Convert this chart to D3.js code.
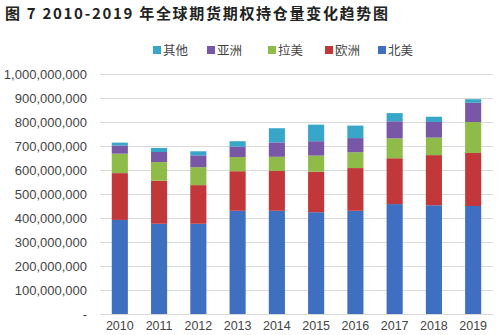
<!DOCTYPE html>
<html>
<head>
<meta charset="utf-8">
<script src="https://cdn.jsdelivr.net/npm/d3@7/dist/d3.min.js"></script>
<style>
  body { margin: 0; background: #fff; }
  svg { display: block; }
  .grid line { stroke: #d9d9d9; }
  .grid .domain { display: none; }
  .axis text { fill: #444; }
</style>
</head>
<body>
<script>
// years and open interest by region (contracts)
const years = ['2010', '2011', '2012', '2013', '2014', '2015', '2016', '2017', '2018', '2019'];
const northAmerica = [392, 376, 376, 430, 430, 424, 430, 458, 453, 450].map(v => v * 1e6);
const europe       = [195, 179, 161, 165, 166, 169, 178, 191, 209, 221].map(v => v * 1e6);
const latinAmerica = [81, 78, 75, 59, 59, 67, 66, 83, 73, 129].map(v => v * 1e6);
const asia         = [34, 42, 49, 43, 60, 60, 59, 71, 65, 80].map(v => v * 1e6);
const other        = [12, 17, 17, 23, 59, 69, 52, 34, 22, 15].map(v => v * 1e6);
const yTicks = [0, 1e8, 2e8, 3e8, 4e8, 5e8, 6e8, 7e8, 8e8, 9e8, 1e9];

const series = [
  { key: '北美', values: northAmerica, color: '#3f6fc1' },
  { key: '欧洲', values: europe, color: '#c2373a' },
  { key: '拉美', values: latinAmerica, color: '#8fbb48' },
  { key: '亚洲', values: asia, color: '#7857a6' },
  { key: '其他', values: other, color: '#38a6c8' }
];

const table = years.map((y, i) => {
  const row = { year: y };
  series.forEach(s => { row[s.key] = s.values[i]; });
  return row;
});

const width = 500, height = 335;
const margin = { top: 74, right: 7, bottom: 21, left: 100 };

const svg = d3.select('body').append('svg')
  .attr('width', width)
  .attr('height', height)
  .style('font-family', '"Noto Sans CJK SC", sans-serif');

svg.append('text')
  .attr('x', 5)
  .attr('y', 19)
  .attr('font-size', 15)
  .attr('font-weight', 'bold')
  .attr('letter-spacing', 1.7)
  .attr('fill', '#222')
  .style('white-space', 'pre')
  .text('图 7 2010-2019 年全球期货期权持仓量变化趋势图');

const x = d3.scaleBand()
  .domain(years)
  .range([margin.left, width - margin.right])
  .paddingInner(0.59)
  .paddingOuter(0.3);

const y = d3.scaleLinear()
  .domain([0, 1e9])
  .range([height - margin.bottom, margin.top]);

// horizontal gridlines
svg.append('g')
  .attr('class', 'grid')
  .attr('transform', `translate(${margin.left},0)`)
  .call(d3.axisLeft(y).tickValues(yTicks).tickSize(-(width - margin.left - margin.right)).tickFormat(''));

// y axis labels
const fmt = d3.format(',');
svg.append('g')
  .attr('class', 'axis')
  .attr('transform', `translate(${margin.left - 10},0)`)
  .call(d3.axisLeft(y).tickValues(yTicks).tickSize(0).tickFormat(d => d === 0 ? '-' : fmt(d)))
  .call(g => g.select('.domain').remove())
  .selectAll('text')
  .attr('font-family', 'Liberation Sans, Arial, sans-serif')
  .attr('font-size', 13)
  .attr('fill', '#444');

const stack = d3.stack().keys(series.map(s => s.key));
const layers = stack(table);

svg.append('g')
  .selectAll('g')
  .data(layers)
  .join('g')
  .attr('fill', (d, i) => series[i].color)
  .selectAll('rect')
  .data(d => d)
  .join('rect')
  .attr('x', d => x(d.data.year))
  .attr('width', x.bandwidth())
  .attr('y', d => y(d[1]))
  .attr('height', d => y(d[0]) - y(d[1]));

// x axis
svg.append('g')
  .attr('class', 'axis')
  .attr('transform', `translate(0,${height - margin.bottom})`)
  .call(d3.axisBottom(x).tickSize(0).tickPadding(7))
  .call(g => g.select('.domain').attr('stroke', '#d9d9d9'))
  .selectAll('text')
  .attr('font-family', 'Liberation Sans, Arial, sans-serif')
  .attr('font-size', 12.5)
  .attr('fill', '#333');

// legend, listed from top layer down
const legendItems = series.slice().reverse();
const legendX = [153, 207, 268, 325, 378];
const legend = svg.append('g')
  .selectAll('g')
  .data(legendItems)
  .join('g')
  .attr('transform', (d, i) => `translate(${legendX[i]},45)`);

legend.append('rect')
  .attr('width', 8)
  .attr('height', 8)
  .attr('y', 1)
  .attr('fill', d => d.color);

legend.append('text')
  .attr('x', 10)
  .attr('y', 10)
  .attr('font-size', 12.5)
  .attr('fill', '#444')
  .text(d => d.key);
</script>
</body>
</html>
